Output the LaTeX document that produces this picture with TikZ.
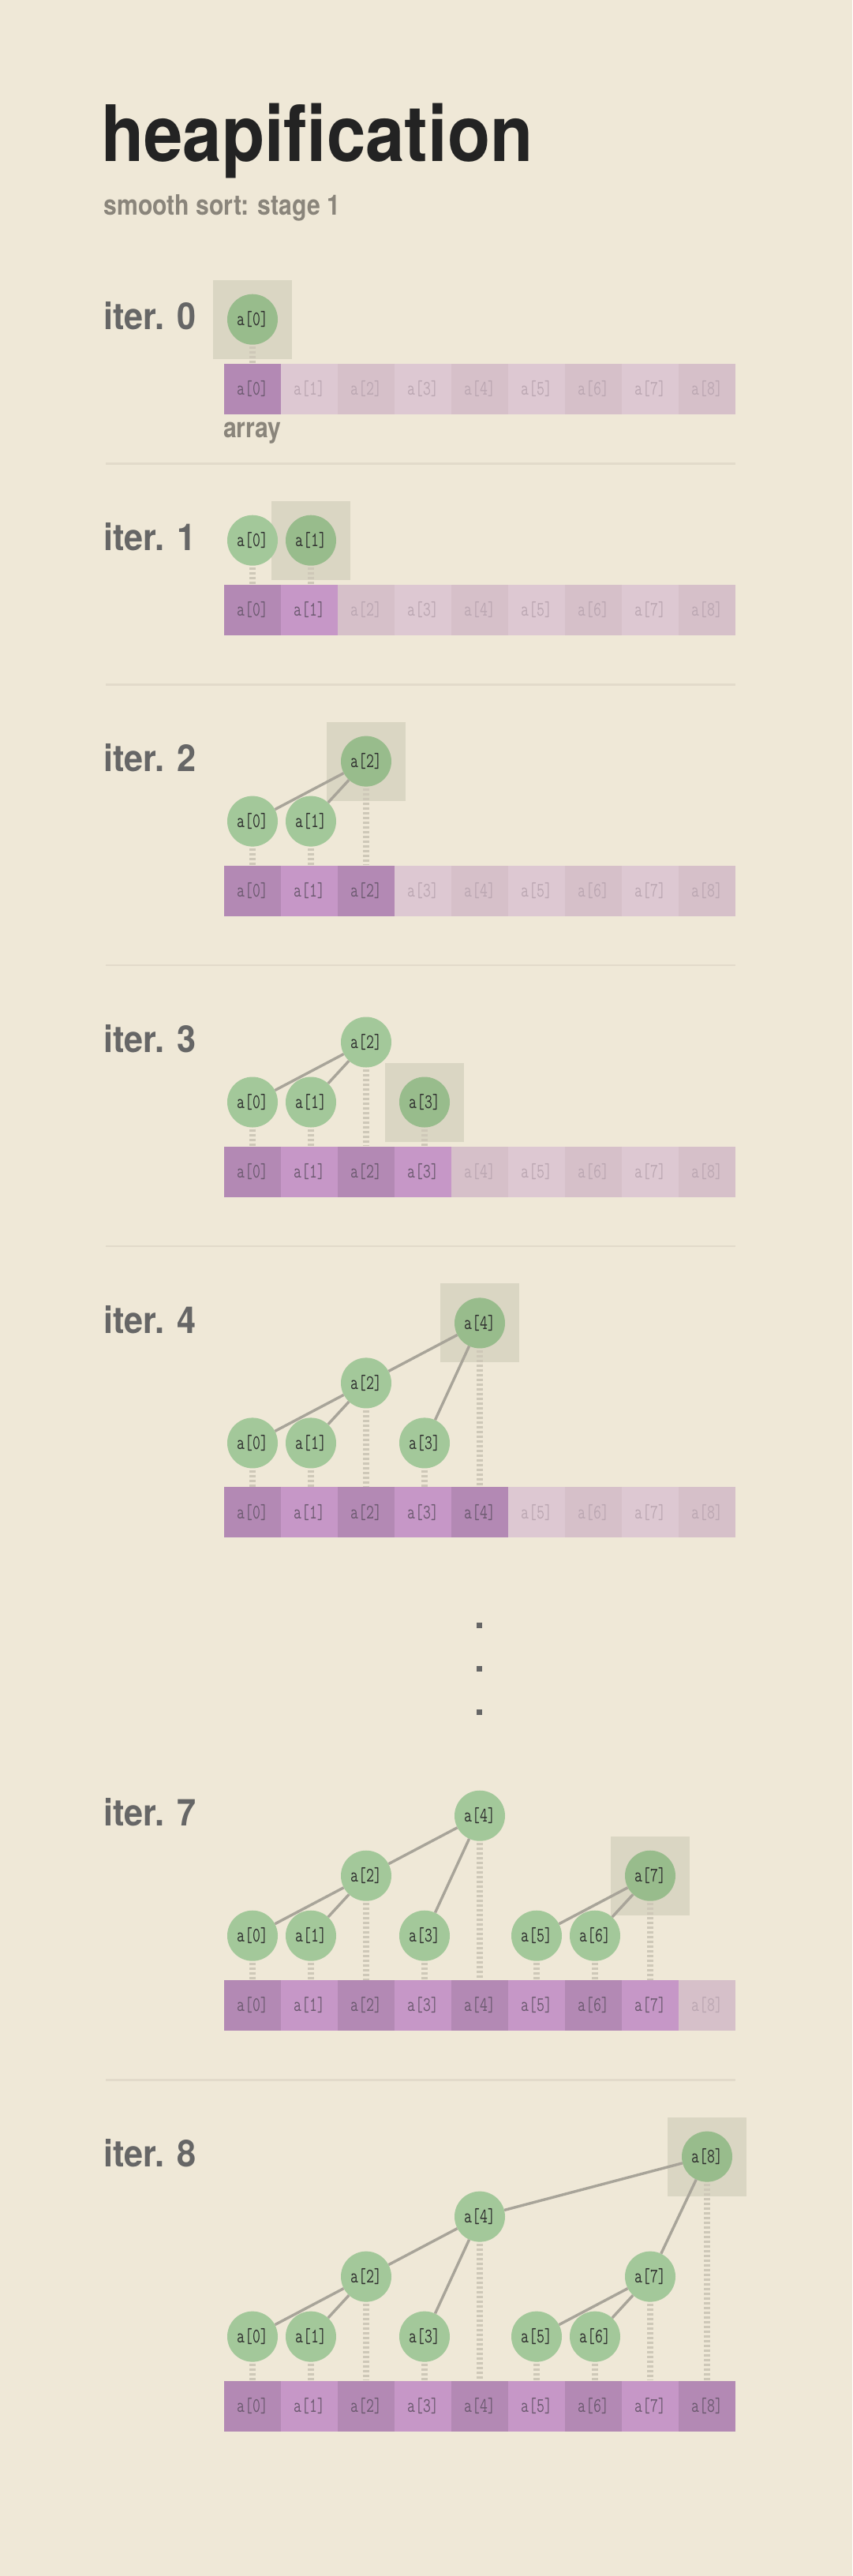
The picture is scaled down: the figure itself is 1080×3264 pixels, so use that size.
\documentclass[tikz,border=0pt]{standalone}
\usepackage{fontspec}
\usepackage{tikz}
\usetikzlibrary{calc}

\newfontfamily\headface{TeX Gyre Heros}[FakeStretch=0.9]
\newfontfamily\subface{TeX Gyre Heros}[FakeStretch=0.85]
\newfontfamily\iterface{TeX Gyre Heros}[FakeStretch=0.92]
\newfontfamily\monoface{Latin Modern Mono}[FakeStretch=0.74]
\newcommand{\hpTitle}{\headface\bfseries\fontsize{98.6pt}{100pt}\selectfont}
\newcommand{\hpSub}{\subface\bfseries\fontsize{35.5pt}{36pt}\selectfont}
\newcommand{\hpIter}{\iterface\bfseries\fontsize{47pt}{48pt}\selectfont}
\newcommand{\hpCell}{\monoface\fontsize{26pt}{26pt}\selectfont}

\definecolor{paper}{HTML}{EFE8D7}
\definecolor{titleink}{HTML}{232323}
\definecolor{subink}{HTML}{8A857B}
\definecolor{iterink}{HTML}{666666}
\definecolor{rulecol}{HTML}{E2DACA}
\definecolor{boxgrey}{HTML}{DAD6C3}
\definecolor{leafgreen}{HTML}{A3C89A}
\definecolor{topgreen}{HTML}{98BC8C}
\definecolor{nodeink}{HTML}{2E2E2E}
\definecolor{linkgrey}{HTML}{A8A499}
\definecolor{dropgrey}{HTML}{CEC8B8}
\definecolor{cellon0}{HTML}{B389B4}
\definecolor{cellon1}{HTML}{C697C7}
\definecolor{celloff0}{HTML}{D6C0C9}
\definecolor{celloff1}{HTML}{DDC8D2}
\definecolor{inkon}{HTML}{6C5A70}
\definecolor{inkoff}{HTML}{BBA7B2}

% one row of the array: prefix, top edge, number of cells in the heap
\newcommand{\heaparray}[3]{%
  \foreach \i in {0,...,8}{%
    \pgfmathtruncatemacro{\odd}{mod(\i,2)}%
    \ifnum\i<#3\relax
      \def\cellfill{cellon\odd}\def\cellink{inkon}%
    \else
      \def\cellfill{celloff\odd}\def\cellink{inkoff}%
    \fi
    \node[cell, fill=\cellfill, text=\cellink] (#1c\i) at ({320+72*\i}, #2+32) {a[\i]};
  }%
}

\begin{document}
\begin{tikzpicture}[x=1pt,y=-1pt]
    \tikzset{
      heapnode/.style={circle, fill=leafgreen, minimum size=64pt, inner sep=0pt, text=nodeink, font=\hpCell},
      topnode/.style={heapnode, fill=topgreen},
      hibox/.style={rectangle, fill=boxgrey, minimum size=100pt, inner sep=0pt},
      cell/.style={rectangle, minimum width=72pt, minimum height=64pt, inner sep=0pt, font=\hpCell},
      link/.style={draw=linkgrey, line width=3.4pt},
      drop/.style={draw=dropgrey, line width=8pt, dash pattern=on 3pt off 3pt},
      rule/.style={draw=rulecol, line width=2.7pt},
      itertext/.style={anchor=base west, inner sep=0pt, font=\hpIter, text=iterink},
      graytext/.style={anchor=base west, inner sep=0pt, font=\hpSub, text=subink}
    }
    \fill[paper] (0,0) rectangle (1080,3264);
    \useasboundingbox (0,0) rectangle (1080,3264);

    \node[anchor=base west, inner sep=0pt, font=\hpTitle, text=titleink] (title) at (128,204) {heapification};
    \node[graytext] (subtitle) at (131.5,272.3) {smooth sort: stage 1};

    % iter. 0
    \node[itertext] (lab0) at (131.5,417.3) {iter. 0};
    \node[hibox] (i0box) at (320,404.7) {};
    \node[topnode] (i0n0) at (i0box) {a[0]};
    \heaparray{i0}{460.7}{1}
    \draw[drop] ([yshift=-2pt]i0n0.south) -- (i0n0.south |- i0c0.north);
    \node[graytext] (arraylab) at (283,554) {array};
    \draw[rule] (134,587.3) -- (932,587.3);

    % iter. 1
    \node[itertext] (lab1) at (131.5,697.3) {iter. 1};
    \node[hibox] (i1box) at (394,684.7) {};
    \node[heapnode] (i1n0) at (320,684.7) {a[0]};
    \node[topnode] (i1n1) at (i1box) {a[1]};
    \heaparray{i1}{740.7}{2}
    \foreach \k in {0,1}
      \draw[drop] ([yshift=-2pt]i1n\k.south) -- (i1n\k.south |- i1c\k.north);
    \draw[rule] (134,867.2) -- (932,867.2);

    % iter. 2
    \node[itertext] (lab2) at (131.5,977.2) {iter. 2};
    \node[hibox] (i2box) at (464,964.6) {};
    \node[heapnode] (i2n0) at (320,1040.6) {a[0]};
    \node[heapnode] (i2n1) at (394,1040.6) {a[1]};
    \node[topnode] (i2n2) at (i2box) {a[2]};
    \heaparray{i2}{1096.6}{3}
    \foreach \a/\b in {0/2,1/2}
      \draw[link] (i2n\a) -- (i2n\b);
    \foreach \k in {0,1,2}
      \draw[drop] ([yshift=-2pt]i2n\k.south) -- (i2n\k.south |- i2c\k.north);
    \draw[rule] (134,1223.1) -- (932,1223.1);

    % iter. 3
    \node[itertext] (lab3) at (131.5,1333.1) {iter. 3};
    \node[hibox] (i3box) at (538,1396.5) {};
    \node[heapnode] (i3n0) at (320,1396.5) {a[0]};
    \node[heapnode] (i3n1) at (394,1396.5) {a[1]};
    \node[heapnode] (i3n2) at (464,1320.5) {a[2]};
    \node[topnode] (i3n3) at (i3box) {a[3]};
    \heaparray{i3}{1452.5}{4}
    \foreach \a/\b in {0/2,1/2}
      \draw[link] (i3n\a) -- (i3n\b);
    \foreach \k in {0,...,3}
      \draw[drop] ([yshift=-2pt]i3n\k.south) -- (i3n\k.south |- i3c\k.north);
    \draw[rule] (134,1579.0) -- (932,1579.0);

    % iter. 4
    \node[itertext] (lab4) at (131.5,1689.0) {iter. 4};
    \node[hibox] (i4box) at (608,1676.4) {};
    \node[heapnode] (i4n0) at (320,1828.4) {a[0]};
    \node[heapnode] (i4n1) at (394,1828.4) {a[1]};
    \node[heapnode] (i4n2) at (464,1752.4) {a[2]};
    \node[heapnode] (i4n3) at (538,1828.4) {a[3]};
    \node[topnode] (i4n4) at (i4box) {a[4]};
    \heaparray{i4}{1884.4}{5}
    \foreach \a/\b in {0/2,1/2,2/4,3/4}
      \draw[link] (i4n\a) -- (i4n\b);
    \foreach \k in {0,...,4}
      \draw[drop] ([yshift=-2pt]i4n\k.south) -- (i4n\k.south |- i4c\k.north);

    % skipped iterations
    \foreach \dy in {2059.3,2114.3,2169.3}
      \fill[iterink] (603.85,\dy-3.65) rectangle (611.15,\dy+3.65);

    % iter. 7
    \node[itertext] (lab7) at (131.5,2313.3) {iter. 7};
    \node[hibox] (i7box) at (824,2376.7) {};
    \node[heapnode] (i7n0) at (320,2452.7) {a[0]};
    \node[heapnode] (i7n1) at (394,2452.7) {a[1]};
    \node[heapnode] (i7n2) at (464,2376.7) {a[2]};
    \node[heapnode] (i7n3) at (538,2452.7) {a[3]};
    \node[heapnode] (i7n4) at (608,2300.7) {a[4]};
    \node[heapnode] (i7n5) at (680,2452.7) {a[5]};
    \node[heapnode] (i7n6) at (754,2452.7) {a[6]};
    \node[topnode] (i7n7) at (i7box) {a[7]};
    \heaparray{i7}{2508.7}{8}
    \foreach \a/\b in {0/2,1/2,2/4,3/4,5/7,6/7}
      \draw[link] (i7n\a) -- (i7n\b);
    \foreach \k in {0,...,7}
      \draw[drop] ([yshift=-2pt]i7n\k.south) -- (i7n\k.south |- i7c\k.north);
    \draw[rule] (134,2635.2) -- (932,2635.2);

    % iter. 8
    \node[itertext] (lab8) at (131.5,2745.2) {iter. 8};
    \node[hibox] (i8box) at (896,2732.6) {};
    \node[heapnode] (i8n0) at (320,2960.6) {a[0]};
    \node[heapnode] (i8n1) at (394,2960.6) {a[1]};
    \node[heapnode] (i8n2) at (464,2884.6) {a[2]};
    \node[heapnode] (i8n3) at (538,2960.6) {a[3]};
    \node[heapnode] (i8n4) at (608,2808.6) {a[4]};
    \node[heapnode] (i8n5) at (680,2960.6) {a[5]};
    \node[heapnode] (i8n6) at (754,2960.6) {a[6]};
    \node[heapnode] (i8n7) at (824,2884.6) {a[7]};
    \node[topnode] (i8n8) at (i8box) {a[8]};
    \heaparray{i8}{3016.6}{9}
    \foreach \a/\b in {0/2,1/2,2/4,3/4,5/7,6/7,4/8,7/8}
      \draw[link] (i8n\a) -- (i8n\b);
    \foreach \k in {0,...,8}
      \draw[drop] ([yshift=-2pt]i8n\k.south) -- (i8n\k.south |- i8c\k.north);
\end{tikzpicture}
\end{document}
